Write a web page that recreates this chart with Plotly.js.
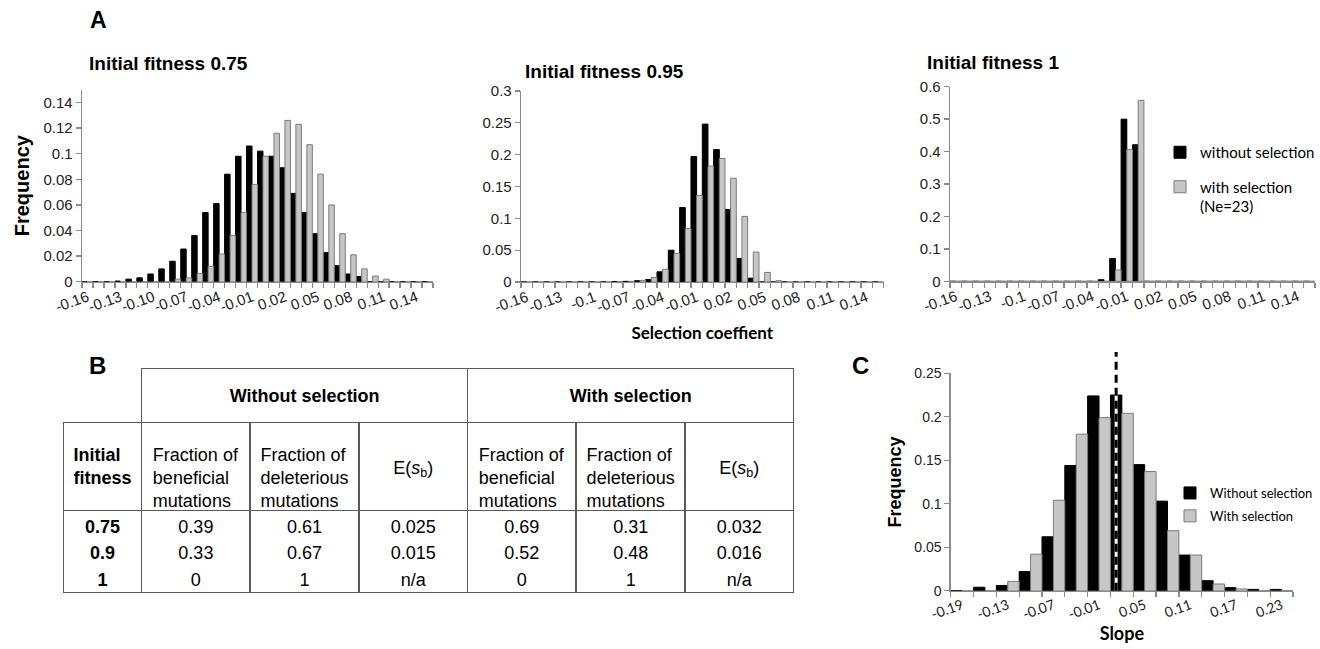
<!DOCTYPE html>
<html>
<head>
<meta charset="utf-8">
<script src="https://cdn.plot.ly/plotly-3.0.1.min.js"></script>
<style>
  html, body { margin: 0; padding: 0; background: #fff; }
  #chart { width: 1320px; height: 649px; }
</style>
</head>
<body>
<div id="chart"></div>
<script>
// ---------- Panel A data (selection coefficient bins) ----------
const aCats = [-0.16,-0.15,-0.14,-0.13,-0.12,-0.11,-0.10,-0.09,-0.08,-0.07,-0.06,-0.05,-0.04,-0.03,-0.02,-0.01,
               0.00,0.01,0.02,0.03,0.04,0.05,0.06,0.07,0.08,0.09,0.10,0.11,0.12,0.13,0.14,0.15];
const a075Without = [0,0,0,0.0005,0.002,0.003,0.006,0.010,0.016,0.0255,0.036,0.054,0.061,0.084,0.098,0.106,
                     0.102,0.098,0.089,0.069,0.054,0.0375,0.0227,0.0125,0.006,0.004,0,0,0,0,0,0];
const a075With    = [0,0,0,0,0,0,0,0,0.002,0.003,0.0065,0.012,0.0216,0.036,0.054,0.076,
                     0.098,0.116,0.126,0.123,0.107,0.084,0.060,0.0375,0.021,0.010,0.0044,0.002,0,0,0,0];
const a095Without = [0,0,0,0,0,0,0,0,0.0005,0.001,0.002,0.004,0.016,0.050,0.117,0.197,
                     0.248,0.208,0.114,0.037,0.006,0,0,0,0,0,0,0,0,0,0,0];
const a095With    = [0,0,0,0,0,0,0,0,0.0005,0.001,0.0026,0.007,0.020,0.045,0.084,0.136,
                     0.182,0.194,0.163,0.103,0.047,0.015,0.002,0,0,0,0,0,0,0,0,0];
const a1Without   = [0,0,0,0,0,0,0,0,0,0,0,0,0,0.005,0.070,0.500,
                     0.421,0,0,0,0,0,0,0,0,0,0,0,0,0,0,0];
const a1With      = [0,0,0,0,0,0,0,0,0,0,0,0,0,0,0.035,0.406,
                     0.558,0,0,0,0,0,0,0,0,0,0,0,0,0,0,0];
const aTickVals   = [-0.16,-0.13,-0.10,-0.07,-0.04,-0.01,0.02,0.05,0.08,0.11,0.14];
const aTickText1  = ['-0.16','-0.13','-0.10','-0.07','-0.04','-0.01','0.02','0.05','0.08','0.11','0.14'];
const aTickText   = ['-0.16','-0.13','-0.1','-0.07','-0.04','-0.01','0.02','0.05','0.08','0.11','0.14'];
const aTitles     = ['Initial fitness 0.75','Initial fitness 0.95','Initial fitness 1'];

// ---------- Panel C data (slope bins) ----------
const cCats    = [-0.19,-0.16,-0.13,-0.10,-0.07,-0.04,-0.01,0.02,0.05,0.08,0.11,0.14,0.17,0.20,0.23];
const cWithout = [0,0.004,0.006,0.022,0.062,0.144,0.224,0.225,0.145,0.103,0.041,0.0115,0.0035,0.0015,0.0015];
const cWith    = [0,0,0.0107,0.042,0.104,0.180,0.199,0.204,0.137,0.069,0.041,0.0077,0.002,0,0];
const cTickVals = [-0.19,-0.13,-0.07,-0.01,0.05,0.11,0.17,0.23];
const cTickText = ['-0.19','-0.13','-0.07','-0.01','0.05','0.11','0.17','0.23'];
const cRefLine  = 0.0125;

// ---------- Panel B table data ----------
const groupHeaders = ['Without selection','With selection'];
const colHeaders = ['Initial<br>fitness','Fraction of<br>beneficial<br>mutations','Fraction of<br>deleterious<br>mutations','E(<i>s</i><sub>b</sub>)',
                    'Fraction of<br>beneficial<br>mutations','Fraction of<br>deleterious<br>mutations','E(<i>s</i><sub>b</sub>)'];
const initFitness = ['0.75','0.9','1'];
const woBenef = ['0.39','0.33','0'];
const woDeler = ['0.61','0.67','1'];
const woEsb   = ['0.025','0.015','n/a'];
const wBenef  = ['0.69','0.52','0'];
const wDeler  = ['0.31','0.48','1'];
const wEsb    = ['0.032','0.016','n/a'];

// ---------- styling ----------
const W = 1320, H = 649;
const px = v => v / W;
const py = v => Math.max(0, Math.min(1, 1 - v / H));
const AX = '#8a8a8a';
const ARIAL = 'Liberation Sans, Arial, sans-serif';
const CALIBRI = 'Lato, Carlito, sans-serif';
const BLACK = {color:'#000', line:{color:'#000', width:1}};
const GRAY  = {color:'#c6c6c6', line:{color:'#7a7a7a', width:1}};

function xAx(domain, anchor, range, tv, tt, minorStart, minorStep, tickSize, tickFamily) {
  return {domain, anchor, range, tickmode:'array', tickvals:tv, ticktext:tt, ticks:'',
    tickangle:-20, tickfont:{family:tickFamily, size:tickSize, color:'#222'},
    showline:true, linecolor:AX, linewidth:1.3, showgrid:false, zeroline:false, fixedrange:true,
    minor:{ticks:'outside', ticklen:5, tickcolor:AX, tickwidth:1.3, tick0:minorStart, dtick:minorStep, showgrid:false}};
}
function yAx(domain, anchor, range, dtick, tickSize) {
  return {domain, anchor, range, tickmode:'linear', tick0:0, dtick, ticks:'outside', ticklen:5,
    tickcolor:AX, tickwidth:1.3, tickfont:{family:ARIAL, size:tickSize, color:'#222'},
    showline:true, linecolor:AX, linewidth:1.3, showgrid:false, zeroline:false, fixedrange:true};
}

const data = [];
const aSets = [[a075Without,a075With],[a095Without,a095With],[a1Without,a1With]];
aSets.forEach((s, k) => {
  const xs = k === 0 ? 'x' : 'x' + (k+1), ys = k === 0 ? 'y' : 'y' + (k+1);
  data.push({type:'bar', x:aCats, y:s[0], xaxis:xs, yaxis:ys, marker:BLACK, name:'without selection',
             legendgroup:'wo', showlegend:k===2, legend:'legend', hoverinfo:'skip'});
  data.push({type:'bar', x:aCats, y:s[1], xaxis:xs, yaxis:ys, marker:GRAY, name:'with selection<br>(Ne=23)',
             legendgroup:'w', showlegend:k===2, legend:'legend', hoverinfo:'skip'});
});
data.push({type:'bar', x:cCats, y:cWithout, xaxis:'x4', yaxis:'y4', marker:BLACK, name:'Without selection',
           legendgroup:'cwo', legend:'legend2', hoverinfo:'skip'});
data.push({type:'bar', x:cCats, y:cWith, xaxis:'x4', yaxis:'y4', marker:GRAY, name:'With selection',
           legendgroup:'cw', legend:'legend2', hoverinfo:'skip'});

// ---------- Table B ----------
const TLINE = {color:'#5a5a5a', width:1.5};
const NOLINE = {color:'rgba(0,0,0,0)', width:0};
const CLEAR = {color:'rgba(0,0,0,0)'};
const TFONT = {family:ARIAL, size:18, color:'#000'};
const colW = [78.4,108.6,109,108.4,109,109,108.3];
const firstBold = colW.map((w, i) => i === 0 ? 'bold' : 'normal');
const groupX = [px(141.7), px(794)];
const mainX  = [px(63.3), px(794)];
// cell borders
data.push({type:'table', domain:{x:groupX, y:[py(424), py(368.3)]}, columnwidth:[1,1],
  header:{values:groupHeaders.map(() => ' '), height:54.4, line:TLINE, fill:{color:'#fff'}, font:TFONT},
  cells:{values:[[],[]], line:TLINE}});
data.push({type:'table', domain:{x:mainX, y:[py(598), py(422.7)]}, columnwidth:colW,
  header:{values:colHeaders.map(() => ' '), height:88, line:TLINE, fill:{color:'#fff'}, font:TFONT},
  cells:{values:colHeaders.map(() => [' ']), height:81.6, line:TLINE, fill:{color:'#fff'}, font:TFONT}});
// cell texts (transparent layers, placed row by row)
function textLayer(xr, topPx, colw, values, weight) {
  return {type:'table', domain:{x:xr, y:[py(topPx + 140), py(topPx)]}, columnwidth:colw,
    header:{values:[], height:0, line:NOLINE, fill:CLEAR},
    cells:{values:values.map(v => [v]), height:30, align:'center', line:NOLINE, fill:CLEAR,
           font:Object.assign({}, TFONT, {weight})}};
}
const TXT_OFF = 34.3;  // hidden header + text offset from layer top
data.push(textLayer(groupX, 399 - TXT_OFF, [1,1], groupHeaders, 'bold'));
data.push(textLayer(mainX, 455 - TXT_OFF, colW, colHeaders.map(h => h.includes('<br>') ? h : ' '), firstBold));
data.push(textLayer(mainX, 468 - TXT_OFF, colW, colHeaders.map(h => h.includes('<br>') ? ' ' : h), firstBold));
const rowCenters = [529.3, 556, 582.7];
initFitness.forEach((f, r) => {
  data.push(textLayer(mainX, rowCenters[r] - TXT_OFF, colW,
    [f, woBenef[r], woDeler[r], woEsb[r], wBenef[r], wDeler[r], wEsb[r]], firstBold));
});

const ann = (x, y, text, size, opts={}) => Object.assign({xref:'paper', yref:'paper', x:px(x), y:py(y), text,
  showarrow:false, font:{family:ARIAL, size, color:'#000', weight:'bold'}, xanchor:'center', yanchor:'middle'}, opts);

const layout = {
  width:W, height:H, margin:{l:0,r:0,t:0,b:0}, paper_bgcolor:'#fff', plot_bgcolor:'rgba(0,0,0,0)',
  barmode:'group', bargap:0, bargroupgap:0, showlegend:true,
  xaxis:  xAx([px(82), px(433)], 'y', [-0.165,0.155], aTickVals, aTickText1, -0.165, 0.01, 15, ARIAL),
  yaxis:  Object.assign(yAx([py(281.7), py(89.7)], 'x', [0,0.15], 0.02, 15),
          {title:{text:'Frequency', font:{family:ARIAL, size:20, color:'#000', weight:'bold'}, standoff:8}}),
  xaxis2: Object.assign(xAx([px(521), px(883.6)], 'y2', [-0.165,0.155], aTickVals, aTickText, -0.165, 0.01, 15, ARIAL),
          {title:{text:'Selection coeffient', font:{family:CALIBRI, size:17, color:'#000', weight:'bold'}, standoff:12}}),
  yaxis2: yAx([py(282), py(91)], 'x2', [0,0.3], 0.05, 15),
  xaxis3: xAx([px(950), px(1315)], 'y3', [-0.165,0.155], aTickVals, aTickText, -0.165, 0.01, 15, ARIAL),
  yaxis3: yAx([py(281.3), py(86.7)], 'x3', [0,0.6], 0.1, 15),
  xaxis4: Object.assign(xAx([px(950.7), px(1293)], 'y4', [-0.205,0.245], cTickVals, cTickText, -0.205, 0.03, 14, CALIBRI),
          {title:{text:'Slope', font:{family:CALIBRI, size:18, color:'#000', weight:'bold'}, standoff:6}}),
  yaxis4: Object.assign(yAx([py(590.7), py(373.3)], 'x4', [0,0.25], 0.05, 14),
          {title:{text:'Frequency', font:{family:ARIAL, size:18, color:'#000', weight:'bold'}, standoff:8}}),
  legend: {x:px(1160), y:py(136), xanchor:'left', yanchor:'top', traceorder:'grouped', tracegroupgap:12,
           valign:'top', font:{family:CALIBRI, size:15, color:'#000'}, bgcolor:'rgba(0,0,0,0)'},
  legend2:{x:px(1170), y:py(478), xanchor:'left', yanchor:'top', traceorder:'grouped', tracegroupgap:3,
           font:{family:CALIBRI, size:13, color:'#000'}, bgcolor:'rgba(0,0,0,0)'},
  shapes: [
    {type:'line', xref:'x4', yref:'paper', x0:cRefLine, x1:cRefLine, y0:py(590.7), y1:py(352),
     line:{color:'#fff', width:3}},
    {type:'line', xref:'x4', yref:'paper', x0:cRefLine, x1:cRefLine, y0:py(590.7), y1:py(352),
     line:{color:'#000', width:3, dash:'8px,5px'}}
  ],
  annotations: [
    ann(98, 20, 'A', 23),
    ann(87, 64, aTitles[0], 19, {xanchor:'left'}),
    ann(523, 72, aTitles[1], 19, {xanchor:'left'}),
    ann(925, 63, aTitles[2], 19, {xanchor:'left'}),
    ann(97, 366, 'B', 24),
    ann(861, 366, 'C', 24)
  ]
};

Plotly.newPlot('chart', data, layout, {displayModeBar:false, staticPlot:true});
</script>
</body>
</html>
